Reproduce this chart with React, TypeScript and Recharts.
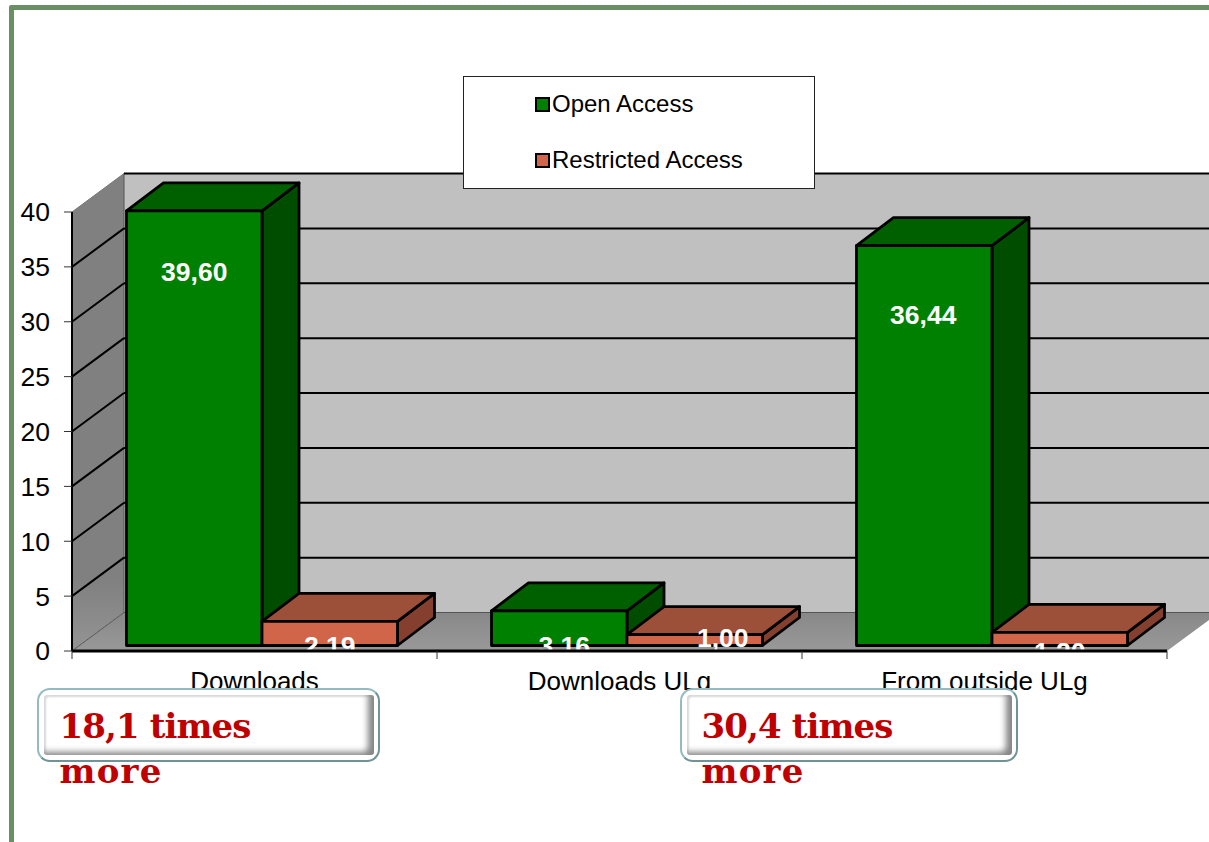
import React from "react";
import { BarChart, Bar, XAxis, YAxis, Legend, LabelList, ReferenceArea, ReferenceLine } from "recharts";

const categories = ["Downloads", "Downloads ULg", "From outside ULg"];
const openAccess = [39.6, 3.16, 36.44];
const restrictedAccess = [2.19, 1.0, 1.2];
const yTicks = [0, 5, 10, 15, 20, 25, 30, 35, 40];
const seriesNames = ["Open Access", "Restricted Access"];
const callouts = ["18,1 times", "30,4 times"];

const rows = categories.map((name, i) => ({ name, open: openAccess[i], restricted: restrictedAccess[i] }));

const FONT = "'Liberation Sans', Arial, sans-serif";
const W = 1209;
const H = 842;
const WALL_DX = 52;
const WALL_DY = 38.5;
const BAR_SHIFT_X = 7.5;
const BAR_SHIFT_Y = 5.5;
const DEPTH_X = 37;
const DEPTH_Y = 28;
const BAND_HALF = 182.5;

// where each value label sits relative to the bar: [x offset, baseline below the bar's top]
const openLabelPos = [[0, 70], [5, 44], [-1, 78]];
const restrictedLabelPos = [[0, 34], [28, 12], [0, 29]];

const box = (x: number, y: number, w: number, h: number, front: string, top: string, side: string) => {
  const pts = (a: number[][]) => a.map((p) => p.join(",")).join(" ");
  return (
    <g stroke="#000" strokeWidth={2.8} strokeLinejoin="round">
      <polygon fill={side} points={pts([[x + w, y], [x + w + DEPTH_X, y - DEPTH_Y], [x + w + DEPTH_X, y + h - DEPTH_Y], [x + w, y + h]])} />
      <polygon fill={top} points={pts([[x, y], [x + DEPTH_X, y - DEPTH_Y], [x + w + DEPTH_X, y - DEPTH_Y], [x + w, y]])} />
      <rect x={x} y={y} width={w} height={h} fill={front} />
    </g>
  );
};

const OpenShape = (p: any) => box(p.x + BAR_SHIFT_X, p.y - BAR_SHIFT_Y, p.width, p.height, "#008000", "#006000", "#004d00");
const RestrictedShape = (p: any) => box(p.x + BAR_SHIFT_X, p.y - BAR_SHIFT_Y, p.width, p.height, "#d0654a", "#9c4f39", "#853f2e");

const valueLabel = (pos: number[][]) => (p: any) => {
  const [dx, dy] = pos[p.index];
  return (
    <text
      x={p.x + BAR_SHIFT_X + p.width / 2 + dx}
      y={p.y - BAR_SHIFT_Y + dy}
      fill="#fff"
      textAnchor="middle"
      fontFamily={FONT}
      fontWeight="bold"
      fontSize={26.5}
    >
      {Number(p.value).toFixed(2).replace(".", ",")}
    </text>
  );
};

const Walls = (p: any) => {
  const { x, y, width, height } = p;
  const b = y + height;
  const r = x + width;
  return (
    <g>
      <defs>
        <linearGradient id="sideWall" x1="0" y1="0" x2="0" y2="1">
          <stop offset="0" stopColor="#808080" />
          <stop offset="0.85" stopColor="#808080" />
          <stop offset="1" stopColor="#949494" />
        </linearGradient>
        <linearGradient id="floorFill" x1="0" y1="0" x2="0" y2="1">
          <stop offset="0" stopColor="#888888" />
          <stop offset="1" stopColor="#999999" />
        </linearGradient>
      </defs>
      <polygon fill="#c0c0c0" points={`${x + WALL_DX},${y - WALL_DY} ${r + WALL_DX},${y - WALL_DY} ${r + WALL_DX},${b - WALL_DY} ${x + WALL_DX},${b - WALL_DY}`} />
      <polygon fill="url(#sideWall)" points={`${x},${y} ${x + WALL_DX},${y - WALL_DY} ${x + WALL_DX},${b - WALL_DY} ${x},${b}`} />
      <polygon fill="url(#floorFill)" points={`${x},${b} ${x + WALL_DX},${b - WALL_DY} ${r + WALL_DX},${b - WALL_DY} ${r},${b}`} />
      <line x1={x + WALL_DX} y1={y - WALL_DY} x2={x + WALL_DX} y2={b - WALL_DY} stroke="#555" strokeWidth={1} />
    </g>
  );
};

const GridLine = (p: any) => {
  const isBase = p.tickValue === 0;
  const isTop = p.tickValue === yTicks[yTicks.length - 1];
  const y = Number(p.y1);
  const stroke = isBase ? "#555" : "#000";
  return (
    <g fill="none">
      <line x1={p.x1} y1={y} x2={Number(p.x1) + WALL_DX} y2={y - WALL_DY} stroke={isTop ? "#777" : stroke} strokeWidth={isBase || isTop ? 1 : 2} />
      <line x1={Number(p.x1) + WALL_DX} y1={y - WALL_DY} x2={Number(p.x2) + WALL_DX} y2={y - WALL_DY} stroke={stroke} strokeWidth={isBase ? 1 : 2} />
    </g>
  );
};

const XTick = (p: any) => {
  const last = p.index === categories.length - 1;
  return (
    <g>
      <line x1={p.x - BAND_HALF} y1={p.y} x2={p.x - BAND_HALF} y2={p.y + 8} stroke="#333" strokeWidth={1} />
      {last && <line x1={p.x + BAND_HALF} y1={p.y} x2={p.x + BAND_HALF} y2={p.y + 8} stroke="#333" strokeWidth={1} />}
      <text x={p.x} y={p.y + 39} textAnchor="middle" fontFamily={FONT} fontSize={26} fill="#000">
        {p.payload.value}
      </text>
    </g>
  );
};

const LegendBox = (p: any) => (
  <div
    style={{
      position: "absolute",
      left: 0,
      top: 0,
      width: 352,
      height: 113,
      boxSizing: "border-box",
      background: "#fff",
      border: "1.5px solid #222",
      fontFamily: FONT,
      fontSize: 24,
      color: "#000",
    }}
  >
    {p.payload.map((item: any, i: number) => (
      <div key={item.value} style={{ position: "absolute", left: 71, top: 27 + i * 56 - 14, height: 28, lineHeight: "28px", whiteSpace: "nowrap" }}>
        <span style={{ position: "absolute", left: 0, top: 7, width: 15, height: 15, boxSizing: "border-box", border: "2.5px solid #000", background: item.color }} />
        <span style={{ position: "absolute", left: 17, top: 0 }}>{item.value}</span>
      </div>
    ))}
  </div>
);

const Callout = ({ left, width, textLeft, text }: { left: number; width: number; textLeft: number; text: string }) => (
  <div
    style={{
      position: "absolute",
      left,
      top: 688,
      width,
      height: 74,
      boxSizing: "border-box",
      borderRadius: 13,
      borderStyle: "solid",
      borderWidth: 2.5,
      borderColor: "#94bcc0 #6f9397 #6f9397 #94bcc0",
      background: "#fff",
    }}
  >
    <div
      style={{
        position: "absolute",
        left: 5,
        top: 5,
        right: 4,
        bottom: 5,
        borderRadius: 3,
        background: "#fff",
        boxShadow: "inset -8px -5px 6px -2px #858585, inset 2px 2px 2px #d8d8d8",
      }}
    />
    <div
      style={{
        position: "absolute",
        left: textLeft - left - 2.5,
        top: 14,
        fontFamily: "'DejaVu Serif', serif",
        fontWeight: "bold",
        fontSize: 34,
        lineHeight: "45px",
        color: "#c00000",
        whiteSpace: "nowrap",
      }}
    >
      <span style={{ letterSpacing: -0.9 }}>{text}</span>
      <br />
      <span style={{ letterSpacing: 1.2 }}>more</span>
    </div>
  </div>
);

export default function App() {
  return (
    <div style={{ position: "absolute", left: 0, top: 0, width: W, height: H, overflow: "hidden", background: "#fff" }}>
      <div style={{ position: "absolute", left: 9, top: 5, width: W + 50, height: H + 50, boxSizing: "border-box", border: "5px solid #6b8f65", borderRadius: 2 }} />
      <div style={{ position: "absolute", left: 0, top: 0 }}>
        <BarChart
          width={W}
          height={H}
          data={rows}
          barSize={135.5}
          barGap={0}
          barCategoryGap={47}
          margin={{ top: 212, right: 42, bottom: 131, left: 0 }}
          style={{ overflow: "visible" }}
        >
          <ReferenceArea y1={0} y2={40} shape={Walls} ifOverflow="visible" stroke="none" zIndex={-300} />
          {yTicks.map((v) => (
            <ReferenceLine key={v} y={v} ifOverflow="visible" zIndex={-200} shape={(p: any) => <GridLine {...p} tickValue={v} />} />
          ))}
          <XAxis
            dataKey="name"
            height={60}
            interval={0}
            tickSize={0}
            tickMargin={0}
            axisLine={{ stroke: "#000", strokeWidth: 3 }}
            tick={XTick}
          />
          <YAxis
            width={72}
            domain={[0, 40]}
            ticks={yTicks}
            interval={0}
            tickSize={8}
            tickMargin={14}
            tick={{ fontFamily: FONT, fontSize: 26.5, fill: "#000" }}
            tickLine={{ stroke: "#333", strokeWidth: 1 }}
            axisLine={{ stroke: "#000", strokeWidth: 2 }}
          />
          <Legend
            layout="vertical"
            align="center"
            verticalAlign="middle"
            wrapperStyle={{ position: "absolute", left: 463, top: 76, width: 352, height: 113 }}
            content={LegendBox}
          />
          <Bar dataKey="open" name={seriesNames[0]} fill="#008000" shape={OpenShape} isAnimationActive={false}>
            <LabelList dataKey="open" zIndex={400} content={valueLabel(openLabelPos)} />
          </Bar>
          <Bar dataKey="restricted" name={seriesNames[1]} fill="#d0654a" shape={RestrictedShape} isAnimationActive={false}>
            <LabelList dataKey="restricted" zIndex={400} content={valueLabel(restrictedLabelPos)} />
          </Bar>
        </BarChart>
      </div>
      <Callout left={37} width={343} textLeft={60} text={callouts[0]} />
      <Callout left={680} width={338} textLeft={702} text={callouts[1]} />
    </div>
  );
}
